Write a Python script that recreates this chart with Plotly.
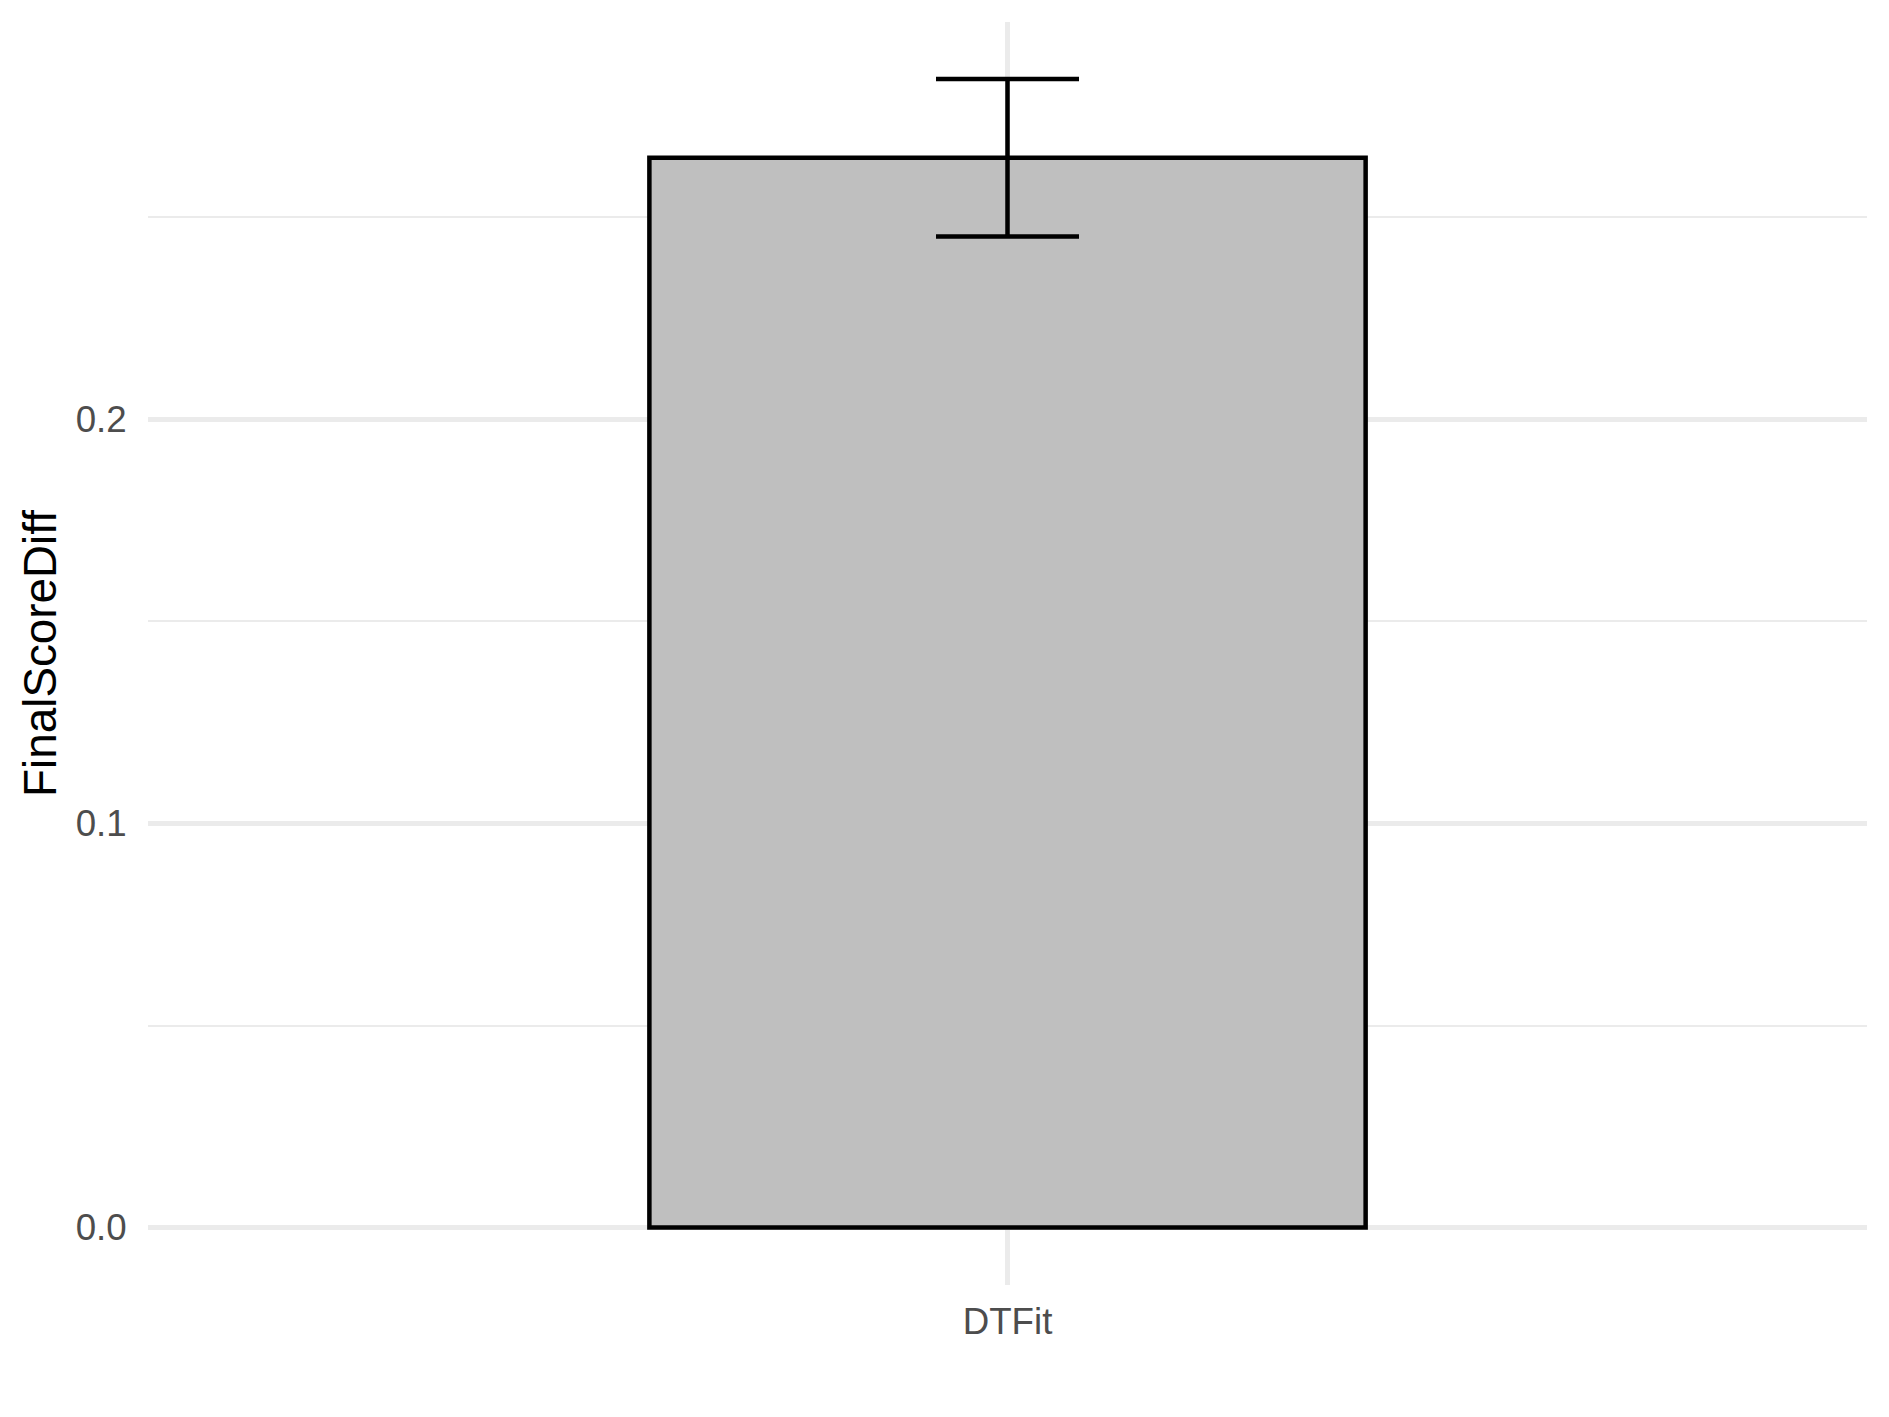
import plotly.graph_objects as go

categories = ["DTFit"]
means = [0.2647]
errors = [0.0195]

fig = go.Figure()
fig.add_trace(go.Bar(
    x=categories, y=means, width=0.5,
    marker=dict(color="#BFBFBF", line=dict(color="black", width=4.5)),
    error_y=dict(type="data", array=errors, visible=True, color="black",
                 thickness=4.5, width=71.5),
    showlegend=False,
))

font = "Liberation Sans, Arial, sans-serif"
fig.update_layout(
    width=1889, height=1417,
    margin=dict(l=148, r=22, t=22, b=132),
    plot_bgcolor="white", paper_bgcolor="white",
    font=dict(family=font),
    xaxis=dict(
        range=[-0.6, 0.6], showgrid=True, gridcolor="#EBEBEB", gridwidth=4.5,
        zeroline=False, showline=False, ticks="outside", ticklen=4, tickcolor="rgba(0,0,0,0)",
        tickfont=dict(size=36.7, color="#4D4D4D", family=font),
    ),
    yaxis=dict(
        range=[-0.0142, 0.2983], tickvals=[0, 0.1, 0.2], ticktext=["0.0", "0.1", "0.2"],
        showgrid=True, gridcolor="#EBEBEB", gridwidth=4.5, zeroline=False, showline=False,
        ticks="outside", ticklen=13, tickcolor="rgba(0,0,0,0)",
        tickfont=dict(size=36.7, color="#4D4D4D", family=font),
        minor=dict(tickvals=[0.05, 0.15, 0.25], showgrid=True, gridcolor="#EBEBEB", gridwidth=2.3, ticks=""),
        title=dict(text="FinalScoreDiff", font=dict(size=45.8, color="black", family=font), standoff=4),
    ),
)
fig.write_html("out.html")
